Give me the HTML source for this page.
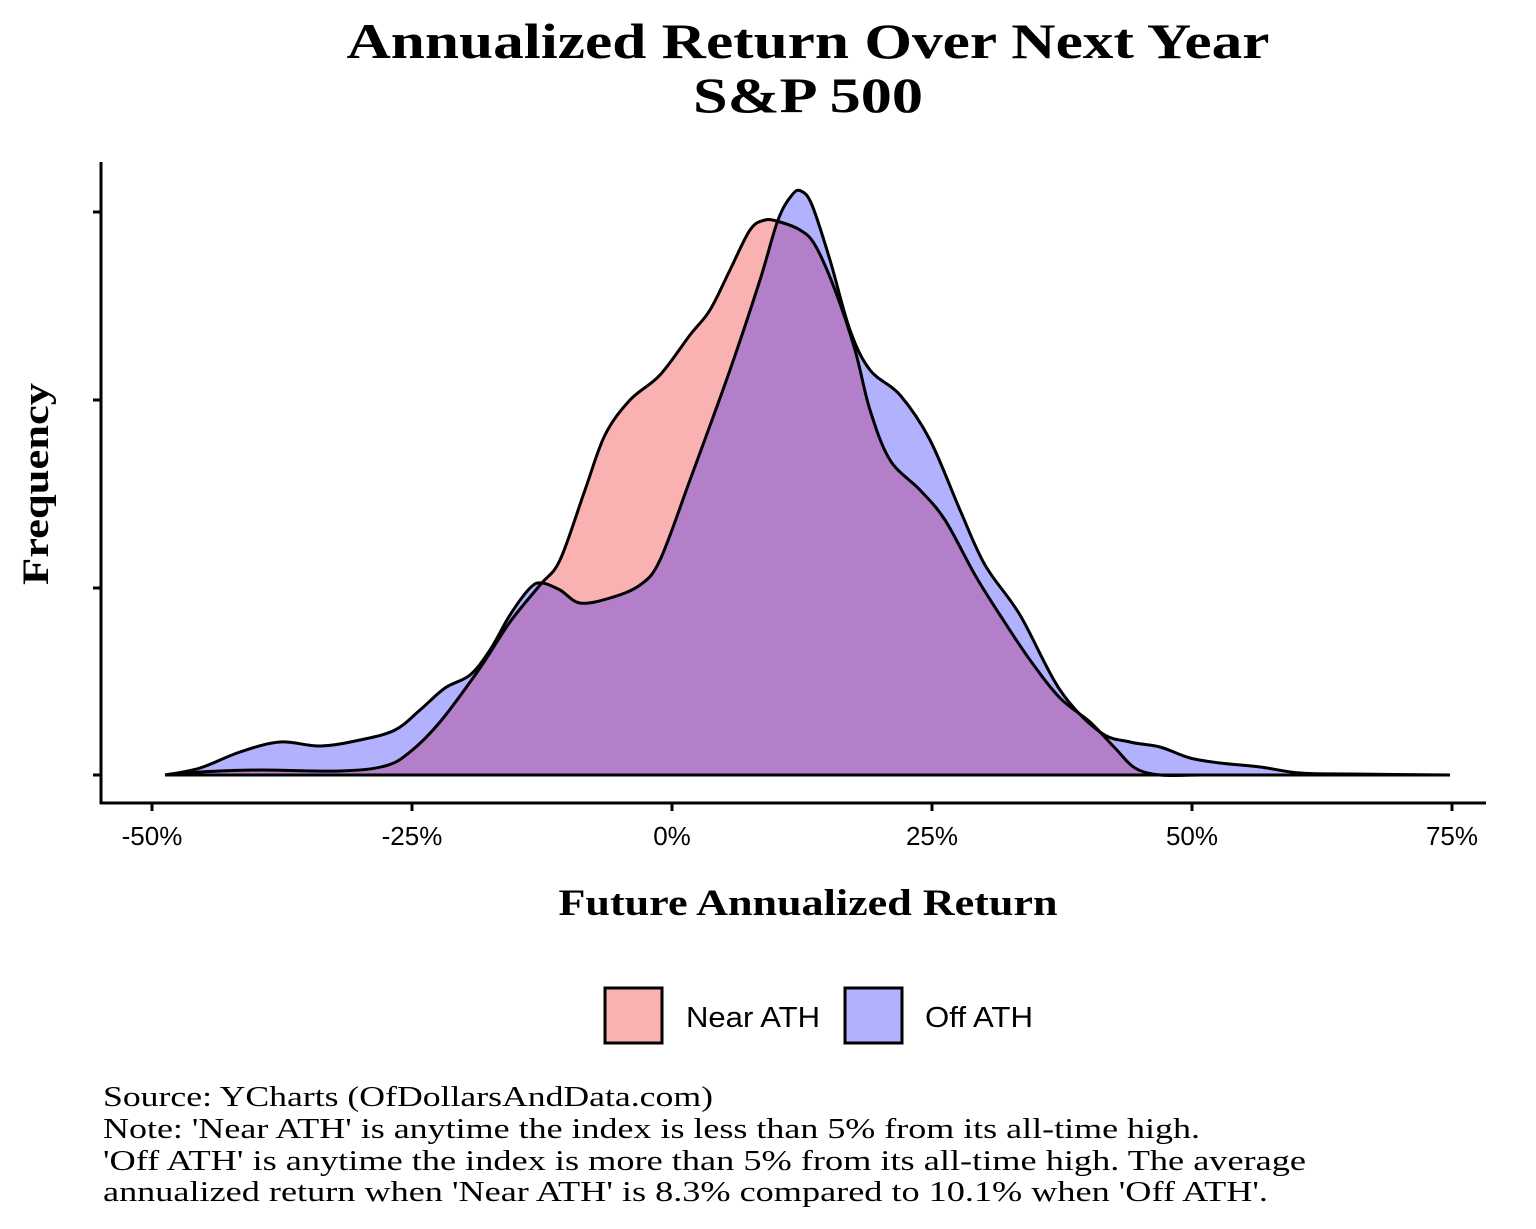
<!DOCTYPE html>
<html><head><meta charset="utf-8"><style>
body{margin:0;background:#fff;width:1536px;height:1229px;overflow:hidden}
svg{display:block}
.t{font-family:"Liberation Serif",serif;font-weight:bold;font-size:50px;text-anchor:middle}
.tk{font-family:"Liberation Sans",sans-serif;font-size:26px;text-anchor:middle}
.ft{font-family:"Liberation Serif",serif;font-size:28px}
</style></head><body>
<svg width="1536" height="1229" viewBox="0 0 1536 1229">
<text class="t" x="808" y="58" textLength="923" lengthAdjust="spacingAndGlyphs">Annualized Return Over Next Year</text>
<text class="t" x="808" y="112" textLength="230" lengthAdjust="spacingAndGlyphs">S&amp;P 500</text>
<defs><clipPath id="cb"><path id="bclip"/></clipPath></defs>
<path id="pink" fill="#f9b1b1" stroke="none"/>
<path id="blue" fill="#b1b1fe" stroke="none"/>
<path id="purp" fill="#b27fc8" stroke="none" clip-path="url(#cb)"/>
<path id="pinkS" fill="none" stroke="#000" stroke-width="3"/>
<path id="blueS" fill="none" stroke="#000" stroke-width="3"/>
<g stroke="#000" stroke-width="3">
<line x1="101" y1="162" x2="101" y2="804"/>
<line x1="100" y1="803" x2="1486" y2="803"/>
<line x1="93" y1="212" x2="101" y2="212"/><line x1="93" y1="400" x2="101" y2="400"/>
<line x1="93" y1="588" x2="101" y2="588"/><line x1="93" y1="775" x2="101" y2="775"/>
<line x1="152" y1="803" x2="152" y2="811"/><line x1="412" y1="803" x2="412" y2="811"/>
<line x1="672" y1="803" x2="672" y2="811"/><line x1="932" y1="803" x2="932" y2="811"/>
<line x1="1192" y1="803" x2="1192" y2="811"/><line x1="1452" y1="803" x2="1452" y2="811"/>
</g>
<text class="tk" x="152" y="845">-50%</text><text class="tk" x="412" y="845">-25%</text>
<text class="tk" x="672" y="845">0%</text><text class="tk" x="932" y="845">25%</text>
<text class="tk" x="1192" y="845">50%</text><text class="tk" x="1452" y="845">75%</text>
<text class="t" style="font-size:37px" x="808" y="915" textLength="499" lengthAdjust="spacingAndGlyphs">Future Annualized Return</text>
<text class="t" style="font-size:37px" transform="translate(48,484) rotate(-90)" textLength="202" lengthAdjust="spacingAndGlyphs">Frequency</text>
<rect x="605" y="988" width="57" height="55" fill="#f9b1b1" stroke="#000" stroke-width="3"/>
<rect x="845" y="988" width="57" height="55" fill="#b1b1fe" stroke="#000" stroke-width="3"/>
<text class="tk" style="text-anchor:start;font-size:29px" x="686" y="1027" textLength="134" lengthAdjust="spacingAndGlyphs">Near ATH</text>
<text class="tk" style="text-anchor:start;font-size:29px" x="925" y="1027" textLength="108" lengthAdjust="spacingAndGlyphs">Off ATH</text>
<text class="ft" x="103" y="1106" textLength="610" lengthAdjust="spacingAndGlyphs">Source: YCharts (OfDollarsAndData.com)</text>
<text class="ft" x="103" y="1138" textLength="1097" lengthAdjust="spacingAndGlyphs">Note: 'Near ATH' is anytime the index is less than 5% from its all-time high.</text>
<text class="ft" x="103" y="1170" textLength="1203" lengthAdjust="spacingAndGlyphs">'Off ATH' is anytime the index is more than 5% from its all-time high. The average</text>
<text class="ft" x="103" y="1201" textLength="1165" lengthAdjust="spacingAndGlyphs">annualized return when 'Near ATH' is 8.3% compared to 10.1% when 'Off ATH'.</text>
</svg>
<script>
function cr(p){let d="M"+p[0][0]+","+p[0][1];for(let i=0;i<p.length-1;i++){const a=p[Math.max(0,i-1)],b=p[i],c=p[i+1],e=p[Math.min(p.length-1,i+2)];d+=" C"+(b[0]+(c[0]-a[0])/6)+","+(b[1]+(c[1]-a[1])/6)+" "+(c[0]-(e[0]-b[0])/6)+","+(c[1]-(e[1]-b[1])/6)+" "+c[0]+","+c[1];}return d;}
const blue=[[165,775],[200,768],[240,752],[280,742],[320,746],[360,740],[395,730],[420,710],[445,688],[470,675],[490,650],[510,615],[530,588],[542,583],[560,590],[580,603],[610,598],[640,585],[660,560],[690,480],[730,370],[760,280],[778,220],[792,195],[801,191],[812,205],[830,260],[850,330],[870,370],[900,395],[930,440],[960,510],[985,565],[1020,615],[1060,690],[1100,732],[1130,742],[1160,747],[1190,758],[1220,763],[1260,767],[1300,773],[1350,774],[1450,775]];
const pink=[[165,775],[200,772],[260,770],[340,771],[385,766],[410,752],[440,722],[480,668],[510,622],[540,585],[560,560],[585,490],[605,435],[630,400],[660,375],[690,335],[710,310],[730,270],[750,230],[765,220],[780,222],[800,230],[815,245],[835,290],[855,350],[870,410],[890,460],[920,490],[945,520],[975,575],[1000,615],[1030,660],[1060,698],[1090,722],[1115,748],[1135,768],[1160,775],[1200,775]];
const pb=cr(pink)+" L1450,775 Z", bb=cr(blue)+" Z";
document.getElementById('pink').setAttribute('d',pb);
document.getElementById('blue').setAttribute('d',bb);
document.getElementById('bclip').setAttribute('d',bb);
document.getElementById('purp').setAttribute('d',pb);
document.getElementById('pinkS').setAttribute('d',cr(pink));
document.getElementById('blueS').setAttribute('d',cr(blue)+" L165,775");
</script>
</body></html>
